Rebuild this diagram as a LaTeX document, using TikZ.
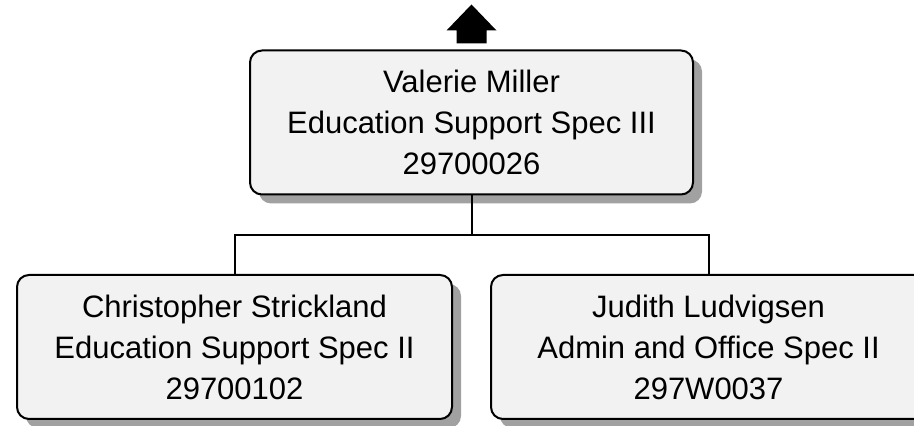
\documentclass[tikz,border=0pt]{standalone}
\usepackage{fontspec}
\setmainfont{Liberation Sans}
\usetikzlibrary{shadows}

\tikzset{
  post/.style={draw, line width=2pt, rounded corners=12pt, fill=black!5,
    align=center, inner sep=0pt, minimum height=144pt,
    font=\fontsize{31}{41}\selectfont,
    drop shadow={shadow xshift=9pt, shadow yshift=-9pt, fill=black!37, opacity=1}},
  link/.style={line width=2pt}
}

\begin{document}
\begin{tikzpicture}[x=1pt,y=1pt]
    \useasboundingbox (0,0) rectangle (914,426);
    \node[post, minimum width=443pt] (valerie) at (471.5,303.5) {Valerie Miller\\Education Support Spec III\\29700026};
    \node[post, minimum width=435pt] (christopher) at (234.5,79) {Christopher Strickland\\Education Support Spec II\\29700102};
    \node[post, minimum width=435pt] (judith) at (708.5,79) {Judith Ludvigsen\\Admin and Office Spec II\\297W0037};
    \draw[link] (valerie.south) -- ++(0,-40) coordinate (bus);
    \draw[link] (bus) -| (christopher.north);
    \draw[link] (bus) -| (judith.north);
    \fill (valerie.north) ++(-15,6) -- ++(0,13) -- ++(-10,0) -- ++(25,26) -- ++(25,-26) -- ++(-10,0) -- ++(0,-13) -- cycle;
  \end{tikzpicture}
\end{document}
